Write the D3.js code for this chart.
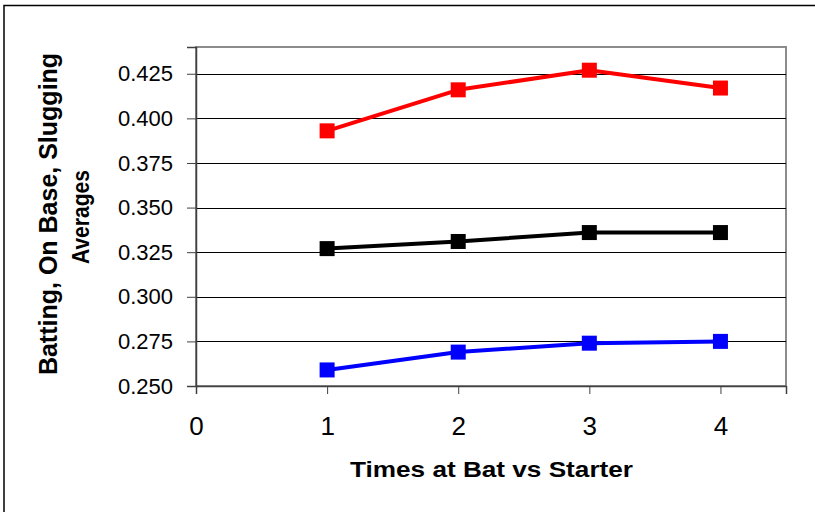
<!DOCTYPE html>
<html>
<head>
<meta charset="utf-8">
<script src="https://cdn.jsdelivr.net/npm/d3@7"></script>
<style>
  html, body { margin: 0; padding: 0; background: #fff; }
  svg { display: block; font-family: "Liberation Sans", Arial, sans-serif; }
</style>
</head>
<body>
<svg id="chart" width="815" height="512"></svg>
<script>
// Times at bat against the starting pitcher
const timesAtBat = [1, 2, 3, 4];
// Averages for each time through the order
const sluggingAvg = [0.393, 0.416, 0.427, 0.417];
const onBaseAvg   = [0.327, 0.331, 0.336, 0.336];
const battingAvg  = [0.259, 0.269, 0.274, 0.275];
const xTicks = [0, 1, 2, 3, 4];
const yTicks = [0.250, 0.275, 0.300, 0.325, 0.350, 0.375, 0.400, 0.425];

const series = [
  { name: "Slugging", values: sluggingAvg, color: "#ff0000" },
  { name: "On Base",  values: onBaseAvg,   color: "#000000" },
  { name: "Batting",  values: battingAvg,  color: "#0000ff" }
];

const svg = d3.select("#chart");
const plot = { left: 196, right: 786, top: 47, bottom: 386 };

const x = d3.scaleLinear().domain([0, 4.5]).range([plot.left, plot.right]);
const y = d3.scaleLinear().domain([0.25, 0.44]).range([plot.bottom, plot.top]);

// outer chart frame
svg.append("rect")
  .attr("x", 4).attr("y", 5.5).attr("width", 830).attr("height", 530)
  .attr("fill", "none").attr("stroke", "#000").attr("stroke-width", 1.5);

// plot area frame
svg.append("rect")
  .attr("x", plot.left).attr("y", plot.top)
  .attr("width", plot.right - plot.left).attr("height", plot.bottom - plot.top)
  .attr("fill", "#fff").attr("stroke", "#8c8c8c").attr("stroke-width", 2);

// horizontal gridlines
svg.append("g").selectAll("line")
  .data(yTicks.filter(d => d > 0.25))
  .join("line")
  .attr("x1", plot.left).attr("x2", plot.right)
  .attr("y1", d => Math.round(y(d)) + 0.5).attr("y2", d => Math.round(y(d)) + 0.5)
  .attr("stroke", "#000").attr("stroke-width", 1);

// y axis
const yAxis = svg.append("g")
  .attr("transform", `translate(${plot.left},0)`)
  .call(d3.axisLeft(y).tickValues(yTicks).tickFormat(d3.format(".3f")).tickSize(9).tickPadding(14));
yAxis.select(".domain").attr("stroke", "#404040").attr("stroke-width", 1.5);
yAxis.selectAll(".tick line").attr("stroke", "#404040");
yAxis.selectAll("text")
  .attr("font-size", 22).attr("fill", "#000")
  .attr("font-family", "'Liberation Sans', Arial, sans-serif");

// x axis
const xAxis = svg.append("g")
  .attr("transform", `translate(0,${plot.bottom})`)
  .call(d3.axisBottom(x).tickValues(xTicks).tickFormat(d3.format("d")).tickSize(8).tickPadding(23));
xAxis.select(".domain").attr("stroke", "#404040").attr("stroke-width", 1.5);
xAxis.selectAll(".tick line").attr("stroke", "#404040");
xAxis.selectAll("text")
  .attr("font-size", 26).attr("fill", "#000")
  .attr("font-family", "'Liberation Sans', Arial, sans-serif");

// series lines and square markers
const line = d3.line().x((d, i) => x(timesAtBat[i])).y(d => y(d));
series.forEach(s => {
  svg.append("path")
    .datum(s.values)
    .attr("d", line)
    .attr("fill", "none")
    .attr("stroke", s.color)
    .attr("stroke-width", 4)
    .attr("stroke-linejoin", "round");
  svg.append("g").selectAll("rect")
    .data(s.values)
    .join("rect")
    .attr("x", (d, i) => x(timesAtBat[i]) - 7.5)
    .attr("y", d => y(d) - 7.5)
    .attr("width", 15).attr("height", 15)
    .attr("fill", s.color);
});

// axis titles
svg.append("text")
  .attr("x", 350).attr("y", 477)
  .attr("font-size", 22).attr("font-weight", "bold")
  .attr("textLength", 283).attr("lengthAdjust", "spacingAndGlyphs")
  .text("Times at Bat vs Starter");

const yTitle = svg.append("text")
  .attr("transform", "translate(57,214) rotate(-90)")
  .attr("text-anchor", "middle")
  .attr("font-size", 25).attr("font-weight", "bold");
yTitle.append("tspan").attr("x", 0).attr("y", 0).text("Batting, On Base, Slugging");
yTitle.append("tspan").attr("x", -3).attr("y", 32)
  .attr("font-size", 23)
  .attr("textLength", 94).attr("lengthAdjust", "spacingAndGlyphs")
  .text("Averages");
</script>
</body>
</html>
